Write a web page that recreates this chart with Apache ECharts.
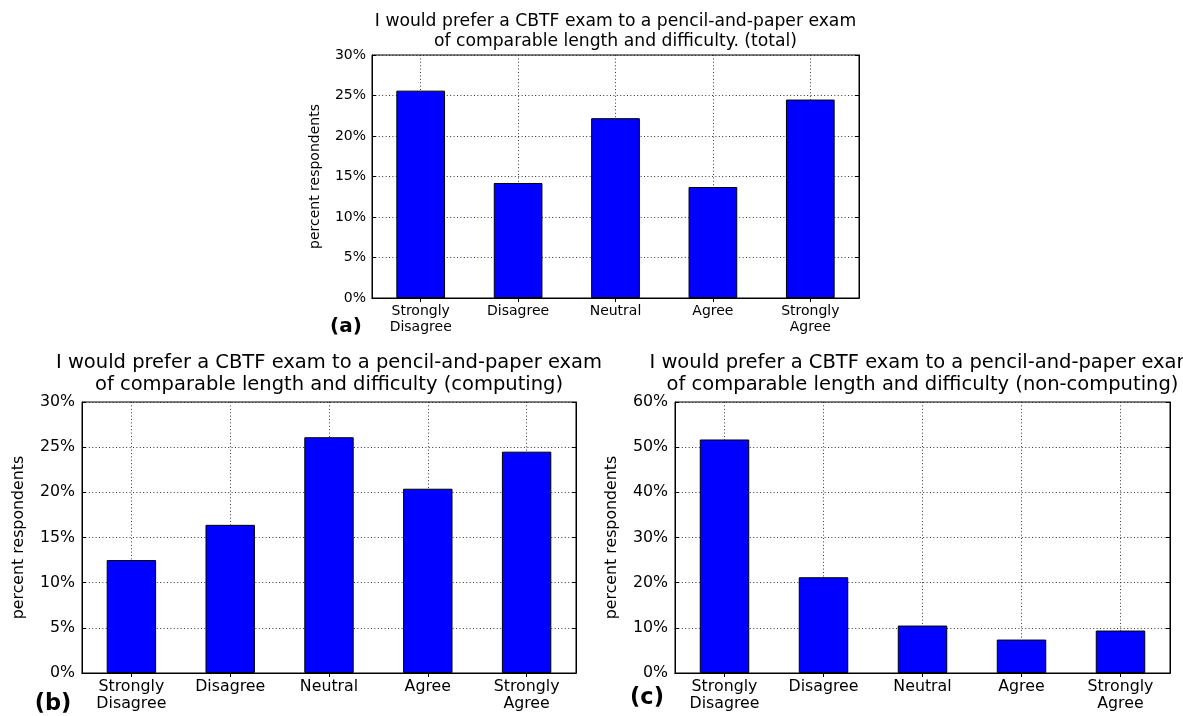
<!DOCTYPE html>
<html>
<head>
<meta charset="utf-8">
<title>CBTF exam preference survey</title>
<script src="https://cdn.jsdelivr.net/npm/echarts@6/dist/echarts.min.js"></script>
<style>
  html, body { margin: 0; padding: 0; background: #fff; }
  #chart { width: 1183px; height: 716px; }
</style>
</head>
<body>
<div id="chart"></div>
<script>
// Survey responses, percent of respondents per answer
const categories = ['Strongly\nDisagree', 'Disagree', 'Neutral', 'Agree', 'Strongly\nAgree'];
const totalValues = [25.6, 14.2, 22.2, 13.7, 24.5];
const computingValues = [12.5, 16.4, 26.1, 20.4, 24.5];
const nonComputingValues = [51.7, 21.2, 10.5, 7.4, 9.4];

const panelTitles = [
  'I would prefer a CBTF exam to a pencil-and-paper exam\nof comparable length and difficulty. (total)',
  'I would prefer a CBTF exam to a pencil-and-paper exam\nof comparable length and difficulty (computing)',
  'I would prefer a CBTF exam to a pencil-and-paper exam\nof comparable length and difficulty (non-computing)'
];
const panelTags = ['(a)', '(b)', '(c)'];
const yMaxima = [30, 30, 60];
const yIntervals = [5, 5, 10];
const yAxisName = 'percent respondents';

// Layout and type sizes of the three panels (pixels)
const panels = [
  { values: totalValues,        left: 372, top: 55,  width: 487, height: 243,
    font: 14, labelLH: 16, labelMargin: 5, tickMargin: 6, nameGap: 50,
    titleFont: 17.2, titleLH: 20.5, titleTop: 11, tagFont: 20, tagX: 346, tagY: 327 },
  { values: computingValues,    left: 82,  top: 402, width: 494, height: 271,
    font: 15.8, labelLH: 17.5, labelMargin: 5, tickMargin: 7, nameGap: 55,
    titleFont: 19.5, titleLH: 22, titleTop: 352, tagFont: 22.5, tagX: 53, tagY: 704 },
  { values: nonComputingValues, left: 675, top: 402, width: 495, height: 271,
    font: 15.8, labelLH: 17.5, labelMargin: 5, tickMargin: 7, nameGap: 55,
    titleFont: 19.5, titleLH: 22, titleTop: 352, tagFont: 22.5, tagX: 647, tagY: 698 }
];

const FONT = 'DejaVu Sans';
const dotted = { color: '#222', width: 0.9, type: [1, 2.4] };
const black = { color: '#000', width: 1 };

const grid = [], xAxis = [], yAxis = [], series = [], title = [], graphic = [];

panels.forEach((p, i) => {
  grid.push({
    left: p.left, top: p.top, width: p.width, height: p.height,
    show: true, borderColor: '#000', borderWidth: 1, backgroundColor: '#fff'
  });

  // bottom category axis with labels
  xAxis.push({
    type: 'category', gridIndex: i, data: categories, position: 'bottom',
    axisLine: { show: true, lineStyle: black },
    axisTick: { show: true, inside: true, length: 4, alignWithLabel: true, lineStyle: black },
    axisLabel: { color: '#000', fontFamily: FONT, fontSize: p.font, lineHeight: p.labelLH,
                 margin: p.labelMargin, interval: 0 },
    splitLine: { show: true, alignWithLabel: true, lineStyle: dotted }
  });
  // top mirror axis: ticks only
  xAxis.push({
    type: 'category', gridIndex: i, data: categories, position: 'top',
    axisLine: { show: true, lineStyle: black },
    axisTick: { show: true, inside: true, length: 4, alignWithLabel: true, lineStyle: black },
    axisLabel: { show: false },
    splitLine: { show: false }
  });

  // left value axis with labels
  yAxis.push({
    type: 'value', gridIndex: i, min: 0, max: yMaxima[i], interval: yIntervals[i], position: 'left',
    name: yAxisName, nameLocation: 'middle', nameGap: p.nameGap,
    nameTextStyle: { color: '#000', fontFamily: FONT, fontSize: p.font },
    axisLine: { show: true, lineStyle: black },
    axisTick: { show: true, inside: true, length: 4, lineStyle: black },
    axisLabel: { color: '#000', fontFamily: FONT, fontSize: p.font, margin: p.tickMargin, formatter: '{value}%' },
    splitLine: { show: true, lineStyle: dotted }
  });
  // right mirror axis: ticks only
  yAxis.push({
    type: 'value', gridIndex: i, min: 0, max: yMaxima[i], interval: yIntervals[i], position: 'right',
    axisLine: { show: true, lineStyle: black },
    axisTick: { show: true, inside: true, length: 4, lineStyle: black },
    axisLabel: { show: false },
    splitLine: { show: false }
  });

  series.push({
    type: 'bar', xAxisIndex: 2 * i, yAxisIndex: 2 * i,
    data: p.values, barWidth: '50%',
    itemStyle: { color: '#0000ff', borderColor: '#000', borderWidth: 1 },
    emphasis: { disabled: true },
    silent: true
  });

  title.push({
    text: panelTitles[i], padding: 0,
    left: p.left + p.width / 2, top: p.titleTop, textAlign: 'center',
    textStyle: { color: '#000', fontFamily: FONT, fontSize: p.titleFont, fontWeight: 'normal', lineHeight: p.titleLH }
  });

  graphic.push({
    type: 'text', x: p.tagX, y: p.tagY,
    style: {
      text: panelTags[i], fill: '#000', font: 'bold ' + p.tagFont + 'px "DejaVu Sans"',
      textAlign: 'center', textVerticalAlign: 'middle'
    }
  });
});

const chart = echarts.init(document.getElementById('chart'), null, { renderer: 'canvas' });
chart.setOption({
  animation: false,
  backgroundColor: '#fff',
  textStyle: { fontFamily: FONT },
  title, grid, xAxis, yAxis, series, graphic
});
</script>
</body>
</html>
